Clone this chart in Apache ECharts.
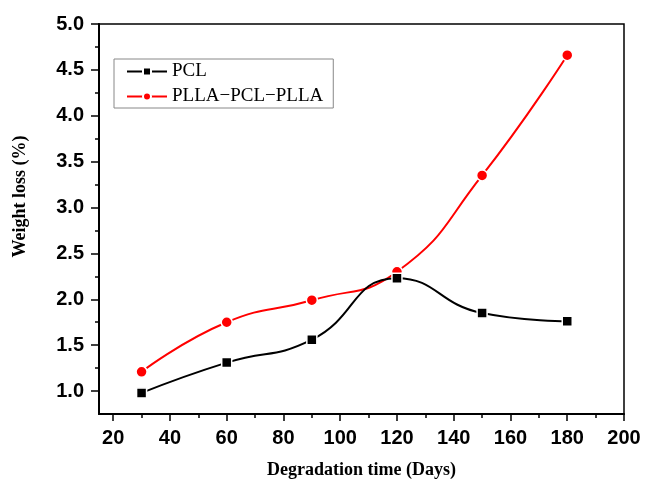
<!DOCTYPE html>
<html>
<head>
<meta charset="utf-8">
<script src="https://cdn.jsdelivr.net/npm/echarts@6/dist/echarts.min.js"></script>
<style>
html,body{margin:0;padding:0;background:#fff;}
#chart{width:646px;height:484px;}
</style>
</head>
<body>
<div id="chart"></div>
<script>
// Data
var days = [30, 60, 90, 120, 150, 180];
var pcl = [0.98, 1.31, 1.56, 2.23, 1.85, 1.76];
var plla = [1.21, 1.75, 1.99, 2.30, 3.35, 4.66];
var seriesNames = ['PCL', 'PLLA\u2212PCL\u2212PLLA'];
var xMajorTicks = [20, 40, 60, 80, 100, 120, 140, 160, 180, 200];
var xMinorTicks = [30, 50, 70, 90, 110, 130, 150, 170, 190];
var yMajorTicks = [1.0, 1.5, 2.0, 2.5, 3.0, 3.5, 4.0, 4.5, 5.0];
var yMinorTicks = [1.25, 1.75, 2.25, 2.75, 3.25, 3.75, 4.25, 4.75];

function pairs(xs, ys) {
  return xs.map(function (x, i) { return [x, ys[i]]; });
}

var chart = echarts.init(document.getElementById('chart'), null, {renderer: 'canvas'});
var labelFont = {fontFamily: 'Liberation Sans', fontWeight: 'bold', fontSize: 20, color: '#000'};
var option = {
  backgroundColor: '#fff',
  animation: false,
  grid: {left: 99, right: 22, top: 24, bottom: 68, show: true, borderColor: '#000', borderWidth: 1.5, backgroundColor: 'transparent'},
  legend: {
    orient: 'vertical',
    left: 114, top: 59,
    padding: [3, 10, 2, 12],
    itemGap: 6,
    itemWidth: 40, itemHeight: 10,
    borderColor: '#888', borderWidth: 1,
    textStyle: {fontFamily: 'Liberation Serif', fontSize: 19, color: '#000'},
    data: seriesNames
  },
  xAxis: [{
    type: 'value', min: 15, max: 200,
    position: 'bottom',
    name: 'Degradation time (Days)', nameLocation: 'middle', nameGap: 47,
    nameTextStyle: {fontFamily: 'Liberation Serif', fontWeight: 'bold', fontSize: 18, color: '#000'},
    axisLine: {show: true, lineStyle: {color: '#000', width: 2}},
    axisTick: {show: true, inside: false, length: 7, customValues: xMajorTicks, lineStyle: {color: '#000', width: 1.5}},
    axisLabel: Object.assign({margin: 14, customValues: xMajorTicks}, labelFont),
    splitLine: {show: false}
  }, {
    type: 'value', min: 15, max: 200,
    position: 'bottom', offset: 0,
    axisLine: {show: false},
    axisTick: {show: true, inside: false, length: 4, customValues: xMinorTicks, lineStyle: {color: '#000', width: 1.5}},
    axisLabel: {show: false},
    splitLine: {show: false}
  }],
  yAxis: [{
    type: 'value', min: 0.75, max: 5,
    position: 'left',
    name: 'Weight loss (%)', nameLocation: 'middle', nameGap: 70,
    nameTextStyle: {fontFamily: 'Liberation Serif', fontWeight: 'bold', fontSize: 18, color: '#000', padding: [0, 0, 0, 45]},
    axisLine: {show: true, lineStyle: {color: '#000', width: 2}},
    axisTick: {show: true, inside: false, length: 8, customValues: yMajorTicks, lineStyle: {color: '#000', width: 1.5}},
    axisLabel: Object.assign({margin: 15, customValues: yMajorTicks, formatter: function (v) { return v.toFixed(1); }}, labelFont),
    splitLine: {show: false}
  }, {
    type: 'value', min: 0.75, max: 5,
    position: 'left', offset: 0,
    axisLine: {show: false},
    axisTick: {show: true, inside: false, length: 4, customValues: yMinorTicks, lineStyle: {color: '#000', width: 1.5}},
    axisLabel: {show: false},
    splitLine: {show: false}
  }],
  series: [{
    name: seriesNames[0], type: 'line',
    data: pairs(days, pcl),
    smooth: 0.5,
    symbol: 'rect', symbolSize: 10,
    lineStyle: {color: '#000', width: 2},
    itemStyle: {color: '#000', borderColor: '#fff', borderWidth: 1.5},
    z: 3
  }, {
    name: seriesNames[1], type: 'line',
    data: pairs(days, plla),
    smooth: 0.5,
    symbol: 'circle', symbolSize: 11,
    lineStyle: {color: '#ff0000', width: 2},
    itemStyle: {color: '#ff0000', borderColor: '#fff', borderWidth: 1.5},
    z: 2
  }]
};
chart.setOption(option);
</script>
</body>
</html>
